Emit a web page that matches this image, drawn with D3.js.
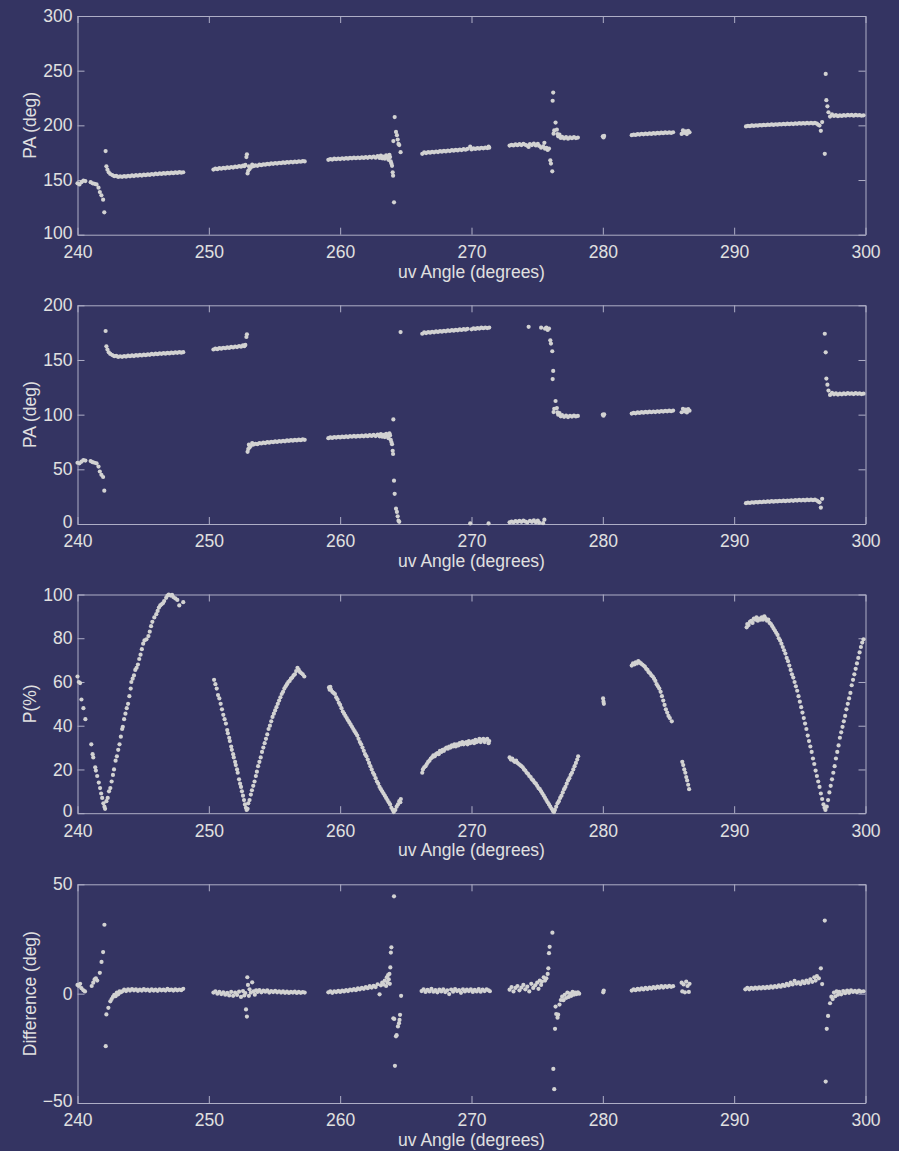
<!DOCTYPE html>
<html>
<head>
<meta charset="utf-8">
<script src="https://cdn.jsdelivr.net/npm/d3@7/dist/d3.min.js"></script>
<style>
  html, body { margin: 0; padding: 0; background: #343462; }
  svg { display: block; }
  text { font-family: "Liberation Sans", Arial, Helvetica, sans-serif; }
</style>
</head>
<body>
<svg id="chart" width="899" height="1151"></svg>
<script>
// ---- tick labels ----
const uvTicks = [240, 250, 260, 270, 280, 290, 300];
const paTicks = [100, 150, 200, 250, 300];
const foldTicks = [0, 50, 100, 150, 200];
const polTicks = [0, 20, 40, 60, 80, 100];
const diffTicks = [-50, 0, 50];

// ---- position angle, continuous branch: [uv angle, PA] ----
const paUnwrapped = [
  [240.0,147],[240.15,146],[240.3,148],[240.45,149.5],[240.6,149],
  [241.0,148],[241.15,147],[241.3,146.5],[241.45,146],[241.6,143],[241.7,139],[241.82,136],[241.95,132],[242.04,120.5],
  [242.14,176.5],[242.2,162.5],[242.28,159.5],[242.38,157],[242.5,155.5],[242.65,154.5],[242.8,153.5],[242.95,153.8],[243.1,152.8],[243.25,153.4],[243.4,152.9],[243.55,153.6],[243.7,153.1],[243.85,153.9],[244.0,153.4],[244.15,154.2],[244.3,153.6],[244.45,154.4],[244.6,153.9],[244.75,154.7],[244.9,154.1],[245.05,154.9],[245.2,154.4],[245.35,155.2],[245.5,154.7],[245.65,155.5],[245.8,155],[245.95,155.8],[246.1,155.3],[246.25,156.1],[246.4,155.6],[246.55,156.3],[246.7,155.8],[246.85,156.5],[247.0,156],[247.15,156.8],[247.3,156.3],[247.45,157],[247.6,156.5],[247.75,157.2],[247.9,156.7],[248.05,157.1],
  [250.35,159.6],[250.5,160.4],[250.65,159.9],[250.8,160.8],[250.95,160.3],[251.1,161.2],[251.25,160.7],[251.4,161.5],[251.55,161],[251.7,161.9],[251.85,161.4],[252.0,162.3],[252.15,161.8],[252.3,162.8],[252.45,162.2],[252.6,163.3],[252.7,162.6],[252.78,163.8],[252.86,171],[252.9,173.5],[252.95,156],
  [253.0,158.5],[253.05,162.5],[253.1,160],[253.2,161.5],[253.3,164],[253.4,162.6],[253.55,163.4],[253.7,163],[253.85,164],[254.0,163.6],[254.15,164.4],[254.3,164],[254.45,164.8],[254.6,164.4],[254.75,165.2],[254.9,164.8],[255.05,165.5],[255.2,165],[255.35,165.8],[255.5,165.4],[255.65,166.1],[255.8,165.6],[255.95,166.4],[256.1,166],[256.25,166.7],[256.4,166.2],[256.55,166.9],[256.7,166.4],[256.85,167.1],[257.0,166.7],[257.15,167.3],[257.3,167],
  [259.1,168.5],[259.25,169.2],[259.4,168.7],[259.55,169.5],[259.7,169],[259.85,169.7],[260.0,169.2],[260.15,169.9],[260.3,169.4],[260.45,170.1],[260.6,169.5],[260.75,170.3],[260.9,169.8],[261.05,170.5],[261.2,169.9],[261.35,170.6],[261.5,170.1],[261.65,170.8],[261.8,170.2],[261.95,171],[262.1,170.3],[262.25,171.2],[262.4,170.5],[262.55,171.5],[262.7,170.4],[262.85,171.8],[263.0,170.2],[263.1,172.3],[263.2,169.8],[263.3,171.5],[263.4,169.5],[263.5,172.5],[263.6,170.5],[263.68,168.5],[263.75,173],[263.8,171],[263.85,167],[263.9,165],[263.95,163],[264.0,157],[264.03,154],[264.1,129.6],
  [264.05,185.6],[264.15,207.6],[264.25,194],[264.32,191],[264.38,187],[264.44,183],[264.5,182],[264.6,175.5],
  [266.25,174],[266.4,175.2],[266.55,174.6],[266.7,175.5],[266.85,175],[267.0,175.8],[267.15,175.3],[267.3,176.1],[267.45,175.6],[267.6,176.4],[267.75,175.9],[267.9,176.7],[268.05,176.2],[268.2,177],[268.35,176.5],[268.5,177.3],[268.65,176.8],[268.8,177.6],[268.95,177.1],[269.1,177.9],[269.25,177.4],[269.4,178.2],[269.55,177.7],[269.7,178.5],[269.9,180.5],[270.0,178],[270.15,178.9],[270.3,178.4],[270.45,179.2],[270.6,178.7],[270.75,179.5],[270.9,179],[271.05,179.7],[271.2,179.2],[271.3,180.5],[271.35,179.6],
  [272.9,181.5],[273.05,182.2],[273.2,181.6],[273.35,182.6],[273.5,181.9],[273.65,182.8],[273.8,182],[273.95,183],[274.1,182.2],[274.25,181.4],[274.35,180.3],[274.45,182.8],[274.6,182],[274.75,183.4],[274.9,181.6],[275.05,183],[275.15,181.2],[275.3,179.5],[275.45,180.8],[275.55,184],[275.6,178.6],[275.7,179.5],[275.8,177.5],[275.9,178.8],[276.0,168],[276.05,165],[276.15,158],
  [276.18,222.5],[276.22,230],[276.25,192.4],[276.3,195.4],[276.4,202.5],[276.5,196],[276.55,192],[276.6,190],[276.7,191.5],[276.8,188.5],[276.9,189.5],[277.05,188],[277.2,189.2],[277.35,187.8],[277.5,189],[277.65,188.2],[277.8,189.2],[277.95,188.4],[278.1,188.8],
  [280.0,190],[280.05,189],[280.1,190.3],
  [282.2,191],[282.35,191.6],[282.5,191.2],[282.65,192],[282.8,191.6],[282.95,192.3],[283.1,191.8],[283.25,192.5],[283.4,192],[283.55,192.7],[283.7,192.2],[283.85,192.9],[284.0,192.4],[284.15,193.1],[284.3,192.6],[284.45,193.3],[284.6,192.8],[284.75,193.5],[284.9,193],[285.05,193.6],[285.2,193.1],[285.35,193.7],
  [286.0,192.2],[286.1,195.4],[286.2,193],[286.3,194.6],[286.4,192],[286.5,195],[286.6,193.6],
  [290.9,199],[291.05,199.6],[291.2,199.2],[291.35,199.9],[291.5,199.5],[291.65,200.1],[291.8,199.7],[291.95,200.3],[292.1,199.9],[292.25,200.5],[292.4,200.1],[292.55,200.7],[292.7,200.3],[292.85,200.9],[293.0,200.4],[293.15,201],[293.3,200.6],[293.45,201.2],[293.6,200.8],[293.75,201.4],[293.9,200.9],[294.05,201.5],[294.2,201.1],[294.35,201.7],[294.5,201.2],[294.65,201.8],[294.8,201.4],[294.95,202],[295.1,201.5],[295.25,202.1],[295.4,201.6],[295.55,202.2],[295.7,201.7],[295.85,202.3],[296.0,201.8],[296.15,202.2],[296.3,201.5],[296.4,200.5],[296.5,199.8],[296.6,195],[296.7,203],
  [296.9,174],[296.97,247],[297.02,223],[297.1,217.4],[297.18,212],
  [297.3,208],[297.45,210],[297.6,208.6],[297.75,209.4],[297.9,208.4],[298.05,209.2],[298.2,208.6],[298.35,209.4],[298.5,208.8],[298.65,209.6],[298.8,209],[298.95,209.5],[299.1,208.8],[299.25,209.6],[299.4,209],[299.55,209.4],[299.7,208.8],[299.85,209.2]
];

// ---- position angle folded into 0-180: [uv angle, PA] ----
const paFolded = [
  [240.0,56],[240.15,55.5],[240.3,57],[240.45,58.5],[240.6,58],
  [241.0,57.5],[241.15,56.5],[241.3,56],[241.45,55.5],[241.6,52.5],[241.7,48],[241.82,45],[241.95,43],[242.04,30.5],
  [242.14,176.5],[242.2,162.5],[242.28,159.5],[242.38,157],[242.5,155.5],[242.65,154.5],[242.8,153.5],[242.95,153.8],[243.1,152.8],[243.25,153.4],[243.4,152.9],[243.55,153.6],[243.7,153.1],[243.85,153.9],[244.0,153.4],[244.15,154.2],[244.3,153.6],[244.45,154.4],[244.6,153.9],[244.75,154.7],[244.9,154.1],[245.05,154.9],[245.2,154.4],[245.35,155.2],[245.5,154.7],[245.65,155.5],[245.8,155],[245.95,155.8],[246.1,155.3],[246.25,156.1],[246.4,155.6],[246.55,156.3],[246.7,155.8],[246.85,156.5],[247.0,156],[247.15,156.8],[247.3,156.3],[247.45,157],[247.6,156.5],[247.75,157.2],[247.9,156.7],[248.05,157.1],
  [250.35,159.6],[250.5,160.4],[250.65,159.9],[250.8,160.8],[250.95,160.3],[251.1,161.2],[251.25,160.7],[251.4,161.5],[251.55,161],[251.7,161.9],[251.85,161.4],[252.0,162.3],[252.15,161.8],[252.3,162.8],[252.45,162.2],[252.6,163.3],[252.7,162.6],[252.78,163.8],[252.86,171],[252.9,173.5],[252.95,66],
  [253.0,68.5],[253.05,72.5],[253.1,70],[253.2,71.5],[253.3,74],[253.4,72.6],[253.55,73.4],[253.7,73],[253.85,74],[254.0,73.6],[254.15,74.4],[254.3,74],[254.45,74.8],[254.6,74.4],[254.75,75.2],[254.9,74.8],[255.05,75.5],[255.2,75],[255.35,75.8],[255.5,75.4],[255.65,76.1],[255.8,75.6],[255.95,76.4],[256.1,76],[256.25,76.7],[256.4,76.2],[256.55,76.9],[256.7,76.4],[256.85,77.1],[257.0,76.7],[257.15,77.3],[257.3,77],
  [259.1,78.5],[259.25,79.2],[259.4,78.7],[259.55,79.5],[259.7,79],[259.85,79.7],[260.0,79.2],[260.15,79.9],[260.3,79.4],[260.45,80.1],[260.6,79.5],[260.75,80.3],[260.9,79.8],[261.05,80.5],[261.2,79.9],[261.35,80.6],[261.5,80.1],[261.65,80.8],[261.8,80.2],[261.95,81],[262.1,80.3],[262.25,81.2],[262.4,80.5],[262.55,81.5],[262.7,80.4],[262.85,81.8],[263.0,80.2],[263.1,82.3],[263.2,79.8],[263.3,81.5],[263.4,79.5],[263.5,82.5],[263.6,80.5],[263.68,78.5],[263.75,83],[263.8,81],[263.85,77],[263.9,75],[263.95,73],[264.0,67],[264.03,64],[264.1,39.6],
  [264.05,95.6],[264.15,27.6],[264.25,14],[264.32,11],[264.38,7],[264.44,3],[264.5,2],[264.6,175.5],
  [266.25,174],[266.4,175.2],[266.55,174.6],[266.7,175.5],[266.85,175],[267.0,175.8],[267.15,175.3],[267.3,176.1],[267.45,175.6],[267.6,176.4],[267.75,175.9],[267.9,176.7],[268.05,176.2],[268.2,177],[268.35,176.5],[268.5,177.3],[268.65,176.8],[268.8,177.6],[268.95,177.1],[269.1,177.9],[269.25,177.4],[269.4,178.2],[269.55,177.7],[269.7,178.5],[269.9,0.5],[270.0,178],[270.15,178.9],[270.3,178.4],[270.45,179.2],[270.6,178.7],[270.75,179.5],[270.9,179],[271.05,179.7],[271.2,179.2],[271.3,0.5],[271.35,179.6],
  [272.9,1.5],[273.05,2.2],[273.2,1.6],[273.35,2.6],[273.5,1.9],[273.65,2.8],[273.8,2],[273.95,3],[274.1,2.2],[274.25,1.4],[274.35,180.3],[274.45,2.8],[274.6,2],[274.75,3.4],[274.9,1.6],[275.05,3],[275.15,1.2],[275.3,179.5],[275.45,0.8],[275.55,4],[275.6,178.6],[275.7,179.5],[275.8,177.5],[275.9,178.8],[276.0,168],[276.05,165],[276.15,158],
  [276.18,132.5],[276.22,140],[276.25,102.4],[276.3,105.4],[276.4,112.5],[276.5,106],[276.55,102],[276.6,100],[276.7,101.5],[276.8,98.5],[276.9,99.5],[277.05,98],[277.2,99.2],[277.35,97.8],[277.5,99],[277.65,98.2],[277.8,99.2],[277.95,98.4],[278.1,98.8],
  [280.0,100],[280.05,99],[280.1,100.3],
  [282.2,101],[282.35,101.6],[282.5,101.2],[282.65,102],[282.8,101.6],[282.95,102.3],[283.1,101.8],[283.25,102.5],[283.4,102],[283.55,102.7],[283.7,102.2],[283.85,102.9],[284.0,102.4],[284.15,103.1],[284.3,102.6],[284.45,103.3],[284.6,102.8],[284.75,103.5],[284.9,103],[285.05,103.6],[285.2,103.1],[285.35,103.7],
  [286.0,102.2],[286.1,105.4],[286.2,103],[286.3,104.6],[286.4,102],[286.5,105],[286.6,103.6],
  [290.9,19],[291.05,19.6],[291.2,19.2],[291.35,19.9],[291.5,19.5],[291.65,20.1],[291.8,19.7],[291.95,20.3],[292.1,19.9],[292.25,20.5],[292.4,20.1],[292.55,20.7],[292.7,20.3],[292.85,20.9],[293.0,20.4],[293.15,21],[293.3,20.6],[293.45,21.2],[293.6,20.8],[293.75,21.4],[293.9,20.9],[294.05,21.5],[294.2,21.1],[294.35,21.7],[294.5,21.2],[294.65,21.8],[294.8,21.4],[294.95,22],[295.1,21.5],[295.25,22.1],[295.4,21.6],[295.55,22.2],[295.7,21.7],[295.85,22.3],[296.0,21.8],[296.15,22.2],[296.3,21.5],[296.4,20.5],[296.5,19.8],[296.6,15],[296.7,23],
  [296.9,174],[296.97,157],[297.02,133],[297.1,127.4],[297.18,122],
  [297.3,118],[297.45,120],[297.6,118.6],[297.75,119.4],[297.9,118.4],[298.05,119.2],[298.2,118.6],[298.35,119.4],[298.5,118.8],[298.65,119.6],[298.8,119],[298.95,119.5],[299.1,118.8],[299.25,119.6],[299.4,119],[299.55,119.4],[299.7,118.8],[299.85,119.2]
];

// ---- fractional polarization: [uv angle, P %] ----
const polarization = [
  [240.0,62.5],[240.1,60],[240.2,59.5],[240.3,52],[240.45,48],[240.6,43],
  [241.05,31.5],[241.15,27],[241.2,25.5],[241.35,21],[241.4,19.5],[241.5,17],[241.62,14],[241.72,11.5],[241.8,9],[241.88,7],[241.97,4.5],[242.05,3],[242.1,2],
  [242.2,5.5],[242.3,7],[242.4,10],[242.5,11.5],[242.6,14.5],[242.7,17.5],[242.78,20],[242.9,24],[243.0,26],[243.1,29],[243.2,31.5],[243.3,35],[243.4,38.5],[243.45,39.5],[243.55,43],[243.65,45.5],[243.75,48],[243.85,50],[243.95,53.5],[244.05,57],[244.1,60],[244.2,61.5],[244.3,63],[244.4,65.5],[244.5,66.5],[244.6,68],[244.7,70.5],[244.8,72.5],[244.9,75],[245.0,77.5],[245.1,79],[245.25,79.5],[245.4,81],[245.5,83],[245.6,85.5],[245.7,87.5],[245.85,89.5],[246.0,91],[246.1,92.5],[246.2,94],[246.3,95],[246.4,95.5],[246.5,96],[246.6,97],[246.75,98.5],[246.85,99.5],[246.95,100],[247.1,99.5],[247.2,99.8],[247.3,98.8],[247.45,98.2],[247.6,97.5],[247.75,95],[248.05,96.5],
  [250.4,61],[250.5,59],[250.6,57],[250.7,54],[250.8,52.5],[250.9,50],[251.0,47.5],[251.1,45],[251.2,43],[251.3,41],[251.4,38],[251.45,36.5],[251.55,34.5],[251.6,33],[251.7,30.5],[251.75,29],[251.85,27],[251.9,25.5],[252.0,23.5],[252.05,22],[252.15,20],[252.2,18.5],[252.3,15.5],[252.38,13.5],[252.45,12],[252.52,10],[252.6,8],[252.68,6],[252.75,4],[252.82,2.5],[252.88,1.5],
  [252.95,2],[253.0,4.5],[253.1,6],[253.2,8.5],[253.28,10.5],[253.38,12.5],[253.48,14.5],[253.58,17],[253.66,19],[253.75,21.5],[253.85,23.5],[253.95,25.5],[254.05,28],[254.15,30],[254.25,32],[254.35,34],[254.45,36],[254.55,38.5],[254.65,40],[254.75,42],[254.85,44],[254.95,45.5],[255.05,47],[255.15,48.5],[255.25,50],[255.35,51.5],[255.45,53],[255.55,54.5],[255.65,55.5],[255.75,57],[255.85,58],[255.95,59],[256.05,60],[256.15,60.5],[256.25,61.5],[256.35,62],[256.45,63],[256.55,63.5],[256.65,65],[256.75,66.5],[256.85,65.5],[256.95,64.5],[257.05,64],[257.15,63.5],[257.27,62.5],
  [259.15,57.5],[259.2,56.5],[259.25,57.8],[259.3,56.5],[259.4,55.5],[259.5,55],[259.6,54.5],[259.7,53],[259.8,52],[259.9,50.5],[260.0,49.5],[260.1,48],[260.2,46.5],[260.3,45.5],[260.4,44.5],[260.5,43.5],[260.6,42.5],[260.7,41.5],[260.8,40.5],[260.9,39.5],[261.0,38.5],[261.1,37.5],[261.2,36.5],[261.3,35.5],[261.4,34],[261.5,32.5],[261.6,31.5],[261.7,30],[261.8,28.5],[261.9,27],[262.0,26],[262.1,24.5],[262.2,23],[262.3,21.5],[262.4,20],[262.5,18.5],[262.6,17.5],[262.7,16],[262.8,14.5],[262.9,13.5],[263.0,12],[263.1,11],[263.2,10],[263.3,9],[263.4,8],[263.5,7],[263.6,6],[263.7,5],[263.8,4],[263.9,2.5],[264.0,1.5],[264.08,0.5],
  [264.2,1.5],[264.3,3],[264.4,4],[264.5,5.5],[264.58,5],[264.62,6.5],
  [266.25,18.5],[266.3,20],[266.4,21],[266.5,21.5],[266.6,22.5],[266.7,23.5],[266.8,24],[266.9,25],[267.0,25.5],[267.1,26.5],[267.2,26],[267.3,27],[267.4,27.5],[267.5,27],[267.6,28.5],[267.7,28],[267.8,29],[267.9,28.5],[268.0,29.5],[268.1,30],[268.2,29.5],[268.3,30.5],[268.4,30],[268.5,31],[268.6,30.5],[268.7,31.5],[268.8,30.5],[268.9,31.5],[269.0,31],[269.1,32],[269.2,31.5],[269.3,32.5],[269.4,31.5],[269.5,32],[269.6,32.5],[269.7,31.5],[269.8,33],[269.9,32],[270.0,32.5],[270.1,33],[270.2,32],[270.3,33.5],[270.4,32.5],[270.5,33],[270.6,34],[270.7,32.5],[270.8,33.5],[270.9,34],[271.0,32.5],[271.1,33.5],[271.2,34],[271.3,32],[271.35,33],
  [272.9,25.5],[273.0,24.5],[273.1,25],[273.2,24],[273.3,23.5],[273.4,24],[273.5,23],[273.6,22.5],[273.7,22],[273.8,21.5],[273.9,21],[274.0,20],[274.1,19.5],[274.2,18.5],[274.3,18],[274.4,17],[274.5,16.5],[274.6,15.5],[274.7,15],[274.8,14],[274.9,13.5],[275.0,12.5],[275.1,11.5],[275.2,11],[275.3,10],[275.4,9],[275.5,8],[275.6,7],[275.7,6],[275.8,5],[275.9,4],[276.0,3],[276.1,2],[276.2,1],[276.28,0.5],
  [276.35,1.5],[276.45,3],[276.55,4.5],[276.65,5.5],[276.75,7],[276.85,8],[276.95,9.5],[277.05,11],[277.15,12],[277.25,13.5],[277.35,15],[277.45,16],[277.55,17.5],[277.65,18.5],[277.75,20],[277.85,21.5],[277.95,23],[278.05,24.5],[278.12,26],
  [280.02,52.5],[280.05,51],[280.08,50],
  [282.2,67.5],[282.3,68.5],[282.4,68],[282.5,69],[282.6,68.5],[282.7,69.5],[282.8,69],[282.9,68.5],[283.0,68],[283.1,67.5],[283.2,67],[283.3,66],[283.4,65.5],[283.5,64.5],[283.6,64],[283.7,63],[283.8,62.5],[283.9,61.5],[284.0,60.5],[284.1,59],[284.2,58],[284.3,57],[284.4,55.5],[284.5,53.5],[284.6,51.5],[284.7,49.5],[284.8,47.5],[284.9,46],[285.0,44.5],[285.1,43.5],[285.25,42],
  [286.05,23.5],[286.12,22],[286.2,20],[286.28,18.5],[286.35,16.5],[286.42,15],[286.5,13],[286.57,11],
  [290.95,85],[291.0,86.5],[291.1,86],[291.2,87.5],[291.3,88],[291.4,87],[291.5,89],[291.6,88.5],[291.7,89.5],[291.8,88],[291.9,89],[292.0,88.5],[292.1,89.5],[292.2,88.5],[292.3,90],[292.4,89],[292.5,88],[292.6,88.5],[292.7,87],[292.8,86.5],[292.9,85.5],[293.0,84.5],[293.1,83.5],[293.2,82.5],[293.3,81.5],[293.4,80],[293.5,79],[293.6,77.5],[293.7,76],[293.8,74.5],[293.9,73],[294.0,71],[294.1,69.5],[294.2,67.5],[294.3,65.5],[294.4,63.5],[294.5,62],[294.6,60],[294.7,58],[294.8,56],[294.9,53.5],[295.0,51],[295.1,48.5],[295.2,46],[295.3,43.5],[295.4,41],[295.5,38.5],[295.6,35.5],[295.7,33],[295.8,30.5],[295.9,28],[296.0,25],[296.1,22.5],[296.2,19.5],[296.3,17],[296.4,14.5],[296.5,12],[296.6,9],[296.7,6.5],[296.8,4],[296.88,2.5],[296.95,1.5],
  [297.05,3],[297.15,6],[297.25,9.5],[297.35,12.5],[297.45,15.5],[297.55,18.5],[297.65,21.5],[297.75,25],[297.85,28],[297.95,31],[298.05,34.5],[298.15,37],[298.25,39.5],[298.35,42],[298.45,44.5],[298.55,47.5],[298.65,50],[298.75,52.5],[298.85,55],[298.95,58.5],[299.05,61],[299.15,63.5],[299.25,66],[299.35,68.5],[299.45,71],[299.55,73.5],[299.65,76],[299.75,78],[299.85,79.5]
];

// ---- PA difference: [uv angle, degrees] ----
const paDifference = [
  [240.0,4],[240.1,3.5],[240.2,4.5],[240.3,2.5],[240.45,1.5],[240.57,1],
  [241.08,3.5],[241.2,5],[241.3,6.5],[241.4,7],[241.5,6],[241.7,9.5],[241.83,14.5],[241.95,19],[242.05,31.5],
  [242.15,-24],[242.2,-9.5],[242.35,-6.5],[242.5,-3.5],[242.6,-2.5],[242.7,-1.5],[242.8,-0.5],[242.9,-1.2],[243.0,0.5],[243.1,-0.3],[243.2,1],[243.3,0.6],
  [243.4,1],[243.55,1.8],[243.7,1.2],[243.85,2],[244.0,1.4],[244.15,2.1],[244.3,1.5],[244.45,2],[244.6,1.3],[244.75,1.9],[244.9,1.4],[245.05,2.1],[245.2,1.5],[245.35,1.9],[245.5,1.3],[245.65,2],[245.8,1.4],[245.95,1.8],[246.1,1.3],[246.25,2],[246.4,1.5],[246.55,1.8],[246.7,1.4],[246.85,2.2],[247.0,1.6],[247.15,1.9],[247.3,1.4],[247.45,2],[247.6,1.5],[247.75,1.9],[247.9,1.6],[248.05,2.2],
  [250.35,0.5],[250.5,1],[250.65,0],[250.8,0.8],[250.95,-0.2],[251.1,0.6],[251.25,-0.5],[251.4,0.4],[251.55,-0.8],[251.7,0.8],[251.85,-1],[252.0,0.5],[252.15,-0.6],[252.3,0.9],[252.45,-1.5],[252.6,1.2],[252.7,-0.8],[252.78,0.3],[252.83,-7.2],[252.9,-10.5],[252.93,7.5],[252.98,4],
  [253.05,-1],[253.1,2],[253.2,0.5],[253.3,5.2],[253.4,1],[253.5,-0.5],[253.6,1.5],
  [253.7,0.8],[253.85,1.6],[254.0,0.6],[254.15,1.4],[254.3,0.9],[254.45,1.5],[254.6,0.5],[254.75,1.2],[254.9,0.7],[255.05,1.3],[255.2,0.6],[255.35,1.1],[255.5,0.5],[255.65,1],[255.8,0.4],[255.95,0.9],[256.1,0.3],[256.25,0.8],[256.4,0.5],[256.55,0.9],[256.7,0.3],[256.85,0.8],[257.0,0.4],[257.15,0.7],[257.3,0.5],
  [259.1,0.6],[259.25,1],[259.4,0.4],[259.55,1.1],[259.7,0.7],[259.85,1.3],[260.0,0.8],[260.15,1.4],[260.3,1],[260.45,1.6],[260.6,1.2],[260.75,1.9],[260.9,1.5],[261.05,2.1],[261.2,1.6],[261.35,2.4],[261.5,2],[261.65,2.6],[261.8,2.2],[261.95,3],[262.1,2.5],[262.25,3.4],[262.4,2.8],[262.55,3.6],[262.7,3],[262.85,4.3],[263.0,-0.3],[263.1,3.8],[263.2,5],[263.3,4.2],[263.4,6],[263.5,3.5],[263.55,7.5],[263.6,5],[263.65,8.5],[263.7,6.5],[263.75,9],[263.78,4.5],[263.82,12],[263.86,18.8],[263.9,21.2],[264.1,44.5],
  [264.05,-11.3],[264.12,-11.6],[264.17,-33],[264.25,-19.5],[264.3,-19],[264.4,-15],[264.48,-13.5],[264.52,-12],[264.56,-9.7],[264.64,-1],
  [266.2,1.2],[266.35,2],[266.5,0.8],[266.65,1.7],[266.8,1],[266.95,2.2],[267.1,0.9],[267.25,1.6],[267.4,0.6],[267.55,1.8],[267.7,1],[267.85,2],[268.0,0.7],[268.15,1.5],[268.3,-0.2],[268.45,1.9],[268.6,0.9],[268.75,2.1],[268.9,1.2],[269.05,1.6],[269.2,0.4],[269.35,2],[269.5,1],[269.65,1.8],[269.8,1.2],[269.95,2],[270.1,0.8],[270.25,1.7],[270.4,1],[270.55,2.1],[270.7,0.9],[270.85,1.8],[271.0,1.2],[271.15,2],[271.3,1.5],[271.4,1.1],
  [272.9,1.8],[273.05,3],[273.2,1],[273.35,2.6],[273.5,3.5],[273.65,1.5],[273.8,2.8],[273.95,4],[274.1,2],[274.25,3.2],[274.4,1],[274.55,4.5],[274.7,2.6],[274.85,3.8],[275.0,5],[275.1,2.2],[275.2,6],[275.3,4],[275.36,5.5],[275.5,7.5],[275.6,6],[275.7,7],[275.8,9],[275.85,11.6],[275.9,18.5],[275.95,21.4],[276.16,27.9],
  [276.23,-34.4],[276.3,-43.7],[276.36,-16.1],[276.4,-5.9],[276.45,-9.3],[276.55,-11],[276.6,-9.6],[276.7,-5],[276.8,-2.9],[276.9,-1.4],[277.0,-3],[277.1,-0.5],[277.2,-2],[277.3,0.5],[277.4,-1.5],[277.5,0],[277.6,-1],[277.7,0.8],[277.8,-0.5],[277.9,0.5],[278.0,-0.2],[278.1,0.6],[278.2,0],
  [280.03,0.6],[280.07,1.4],
  [282.2,1.4],[282.35,2],[282.5,1.6],[282.65,2.2],[282.8,1.8],[282.95,2.4],[283.1,1.9],[283.25,2.6],[283.4,2.1],[283.55,2.8],[283.7,2.3],[283.85,3],[284.0,2.5],[284.15,3.2],[284.3,2.7],[284.45,3.4],[284.6,2.8],[284.75,3.5],[284.9,3],[285.05,3.6],[285.2,3.1],[285.35,3.4],
  [286.0,5],[286.05,1],[286.15,4.2],[286.25,0.6],[286.35,5.5],[286.45,3.5],[286.55,0.8],[286.6,4.5],
  [290.85,2],[291.0,2.6],[291.15,2],[291.3,2.7],[291.45,2.2],[291.6,2.8],[291.75,2.3],[291.9,2.9],[292.05,2.4],[292.2,3],[292.35,2.5],[292.5,3.1],[292.65,2.6],[292.8,3.3],[292.95,2.8],[293.1,3.5],[293.25,3],[293.4,3.8],[293.55,3.2],[293.7,4],[293.85,3.5],[294.0,4.5],[294.15,3.8],[294.3,5],[294.45,4.2],[294.6,5.8],[294.75,4.6],[294.9,5.2],[295.05,4.4],[295.2,5.6],[295.35,4.8],[295.5,6],[295.65,5],[295.8,6.5],[295.95,5.4],[296.1,7.5],[296.2,6],[296.3,8],[296.45,7],[296.6,11.6],[296.7,4.4],
  [296.9,33.4],[296.97,-40.2],[297.05,-16.1],[297.15,-10.2],[297.3,-4.4],
  [297.4,-1.4],[297.5,-2.5],[297.6,0.5],[297.7,-1.2],[297.8,1],[297.9,-0.5],[298.0,0.8],[298.15,-0.3],[298.3,1.2],[298.45,0.2],[298.6,1.4],[298.75,0.4],[298.9,1.5],[299.05,0.8],[299.2,1.3],[299.35,0.6],[299.5,1.4],[299.65,0.9],[299.85,1.1]
];

// ---- layout ----
const plotLeft = 77.5, plotRight = 865.5, plotHeight = 218.7;
const panelTops = [16, 305.3, 594.5, 884.3];
const frameColor = "#aeaec6";
const textColor = "#e0e0e0";
const dotColor = "#d2d2d2";
const fontSize = "17.5px";

const panels = [
  { points: paUnwrapped,  domain: [100, 300], ticks: paTicks,   title: "PA (deg)" },
  { points: paFolded,     domain: [0, 200],   ticks: foldTicks, title: "PA (deg)" },
  { points: polarization, domain: [0, 100],   ticks: polTicks,  title: "P(%)" },
  { points: paDifference, domain: [-50, 50],  ticks: diffTicks, title: "Difference (deg)" }
];

const svg = d3.select("#chart");
svg.append("rect").attr("width", 899).attr("height", 1151).attr("fill", "#343462");

const x = d3.scaleLinear().domain([240, 300]).range([plotLeft, plotRight]);

function styleAxis(g) {
  g.attr("font-size", null).attr("font-family", null);
  g.selectAll("path.domain").attr("stroke", frameColor).attr("stroke-width", 1);
  g.selectAll(".tick line").attr("stroke", frameColor).attr("stroke-width", 1);
  g.selectAll(".tick text")
    .attr("fill", textColor)
    .style("font-size", fontSize)
    .style("font-family", '"Liberation Sans", Arial, Helvetica, sans-serif');
}

panels.forEach((p, i) => {
  const g = svg.append("g").attr("transform", `translate(0,${panelTops[i]})`);
  const y = d3.scaleLinear().domain(p.domain).range([plotHeight, 0]);

  // bottom axis with labels, ticks pointing inward
  g.append("g")
    .attr("transform", `translate(0,${plotHeight})`)
    .call(d3.axisBottom(x).tickValues(uvTicks).tickSizeInner(-7).tickSizeOuter(0).tickPadding(11))
    .call(styleAxis);

  // top axis, ticks only
  g.append("g")
    .call(d3.axisTop(x).tickValues(uvTicks).tickSizeInner(-7).tickSizeOuter(0).tickFormat(""))
    .call(styleAxis);

  // left axis with labels
  const left = g.append("g")
    .attr("transform", `translate(${plotLeft},0)`)
    .call(d3.axisLeft(y).tickValues(p.ticks).tickSizeInner(-7).tickSizeOuter(0).tickPadding(5))
    .call(styleAxis);
  // keep the lowest label clear of the "240" below it
  left.selectAll(".tick text").filter(d => d === p.domain[0]).attr("dy", "0.2em");

  // right axis, ticks only
  g.append("g")
    .attr("transform", `translate(${plotRight},0)`)
    .call(d3.axisRight(y).tickValues(p.ticks).tickSizeInner(-7).tickSizeOuter(0).tickFormat(""))
    .call(styleAxis);

  // measured points
  g.append("g")
    .selectAll("circle")
    .data(p.points)
    .join("circle")
    .attr("cx", d => x(d[0]))
    .attr("cy", d => y(d[1]))
    .attr("r", 2.1)
    .attr("fill", dotColor);

  // x-axis title
  g.append("text")
    .attr("x", (plotLeft + plotRight) / 2)
    .attr("y", plotHeight + 43)
    .attr("text-anchor", "middle")
    .attr("fill", textColor)
    .style("font-size", fontSize)
    .text("uv Angle (degrees)");

  // y-axis title
  g.append("text")
    .attr("transform", `translate(30,${plotHeight / 2}) rotate(-90)`)
    .attr("text-anchor", "middle")
    .attr("dy", "0.35em")
    .attr("fill", textColor)
    .style("font-size", fontSize)
    .text(p.title);
});
</script>
</body>
</html>
